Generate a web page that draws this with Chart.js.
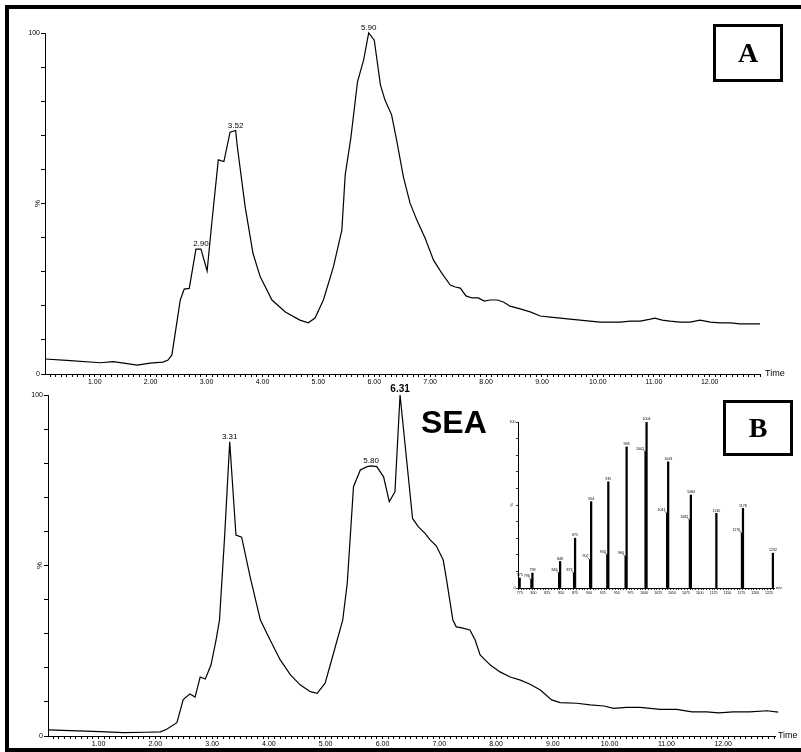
<!DOCTYPE html>
<html><head><meta charset="utf-8">
<script src="https://cdn.jsdelivr.net/npm/chart.js@4.4.1/dist/chart.umd.min.js"></script>
<style>
html,body{margin:0;padding:0;background:#fff;width:801px;height:752px;overflow:hidden;position:relative}
canvas{position:absolute;left:0;top:0}
#frame{position:absolute;left:5px;top:5px;width:820px;height:747px;border:4px solid #000;box-sizing:border-box}
.box{position:absolute;border:3px solid #000;box-sizing:border-box;font:bold 28px "Liberation Serif";display:flex;align-items:center;justify-content:center;color:#000}
#sea{position:absolute;left:421px;top:406px;font:bold 32px "Liberation Sans";line-height:32px;color:#000;white-space:nowrap}
</style></head><body>
<div id="frame"></div>
<canvas id="cA" width="801" height="752"></canvas>
<canvas id="cB" width="801" height="752"></canvas>
<canvas id="cI" width="801" height="752"></canvas>
<div class="box" style="left:713px;top:24px;width:70px;height:58px;">A</div>
<div class="box" style="left:723px;top:400px;width:70px;height:56px;">B</div>
<div id="sea">SEA</div>
<script>
// ---- Chromatogram A ----
const timeA = [0.11,0.50,1.10,1.33,1.55,1.76,1.99,2.22,2.31,2.38,2.53,2.60,2.69,2.81,2.90,3.01,3.09,3.21,3.31,3.42,3.52,3.55,3.69,3.83,3.96,4.17,4.41,4.67,4.82,4.94,5.09,5.27,5.42,5.48,5.58,5.70,5.81,5.90,6.00,6.11,6.19,6.31,6.40,6.52,6.64,6.76,6.91,7.06,7.21,7.36,7.45,7.54,7.64,7.75,7.86,7.97,8.07,8.20,8.31,8.43,8.61,8.79,8.97,9.15,9.33,9.50,9.68,9.86,10.04,10.22,10.40,10.58,10.76,10.94,11.02,11.15,11.29,11.47,11.65,11.83,12.01,12.19,12.37,12.54,12.72,12.90];
const intensityA = [4.4,4.0,3.3,3.6,3.1,2.6,3.2,3.5,4.1,5.6,21.7,24.9,25.1,36.6,36.6,30.2,43.7,62.8,62.3,70.9,71.4,66.7,49.1,35.4,28.5,21.7,18.2,15.8,15.0,16.4,21.7,31.5,42.2,58.4,69.1,85.7,92.1,100,97.9,84.8,80.4,76.0,68.6,57.9,50.1,45.2,39.8,33.4,29.5,26.1,25.5,25.2,22.9,22.3,22.3,21.4,21.7,21.7,21.1,19.9,19.1,18.2,17.0,16.7,16.4,16.1,15.8,15.5,15.2,15.2,15.2,15.5,15.5,16.1,16.4,15.8,15.5,15.2,15.2,15.8,15.2,15.0,15.0,14.7,14.7,14.7];
const peakLabelsA = ['2.90','3.52','5.90'];

// ---- Chromatogram B ----
const timeB = [0.11,1.03,1.44,1.85,2.09,2.20,2.38,2.49,2.54,2.61,2.70,2.79,2.88,2.98,3.07,3.13,3.22,3.31,3.42,3.52,3.67,3.85,4.02,4.20,4.38,4.55,4.73,4.85,4.99,5.10,5.30,5.38,5.49,5.61,5.73,5.80,5.90,6.02,6.12,6.22,6.31,6.53,6.63,6.75,6.84,6.95,7.07,7.13,7.24,7.30,7.40,7.54,7.63,7.72,7.90,8.07,8.25,8.43,8.60,8.78,8.98,9.13,9.42,9.66,9.90,10.07,10.30,10.54,10.89,11.18,11.45,11.71,11.92,12.18,12.47,12.77,12.97];
const intensityB = [1.8,1.3,1.0,1.1,1.2,2.0,3.9,10.6,11.4,12.3,11.4,17.3,16.7,20.8,28.2,34.0,58.4,86.3,58.9,58.3,46.7,34.0,28.2,22.3,17.9,15.0,13.0,12.5,15.5,22.0,34.0,44.8,73.1,78.0,79.0,79.2,79.0,76.0,68.7,71.6,100,63.8,61.4,59.4,57.5,55.7,51.6,45.7,34.0,32.0,31.7,31.1,28.2,23.8,20.8,18.8,17.3,16.4,15.2,13.5,10.6,9.8,9.6,9.1,8.8,8.1,8.4,8.4,7.8,7.8,7.1,7.1,6.8,7.1,7.1,7.4,7.0];
const peakLabelsB = ['3.31','5.80','6.31'];

// ---- Time axis tick labels ----
const timeTickLabels = ['1.00','2.00','3.00','4.00','5.00','6.00','7.00','8.00','9.00','10.00','11.00','12.00'];
const yTickLabels = ['0','100'];

// ---- Inset mass spectrum ----
const mzMain = [775,798,848,875,904,935,968,1004,1043,1084,1130,1178,1232];
const relMain = [6,9,16,30,52,64,85,100,76,56,45,48,21];
const mzMainLabels = ['775','798','848','875','904','935','968','1004','1043','1084','1130','1178','1232'];
const mzSub = [796,846,873,902,933,966,1002,1041,1082,1176];
const relSub = [5,9,9,17,20,19,82,45,41,33];
const mzSubLabels = ['796','846','873','902','933','966','1002','1041','1082','1176'];
const mzTickLabels = ['775','800','825','850','875','900','925','950','975','1000','1025','1050','1075','1100','1125','1150','1175','1200','1225'];

Chart.defaults.font.family = '"Liberation Sans", Arial, sans-serif';
Chart.defaults.color = '#000';

const chromText = {
  id: 'chromText',
  afterDraw(chart, args, o) {
    if (!o || !o.on) return;
    const {ctx, chartArea, scales} = chart;
    const xs = scales.x, ys = scales.y;
    ctx.save();
    ctx.fillStyle = '#000';
    ctx.font = '9px "Liberation Sans"';
    ctx.textAlign = 'left'; ctx.textBaseline = 'middle';
    ctx.fillText('Time', chartArea.right + o.timeDx, chartArea.bottom);
    const d = chart.data.datasets[0].data;
    o.peaks.forEach((lab, k) => {
      const t = parseFloat(lab);
      let best = 0, bd = 1e9;
      d.forEach((p, i) => { const dd = Math.abs(p.x - t); if (dd < bd) { bd = dd; best = i; } });
      const px = xs.getPixelForValue(t), py = ys.getPixelForValue(d[best].y);
      ctx.font = (o.peakFonts && o.peakFonts[k]) || '8px "Liberation Sans"';
      ctx.textAlign = 'center'; ctx.textBaseline = 'bottom';
      ctx.fillText(lab, px, py - 1);
    });
    ctx.font = '8px "Liberation Sans"';
    ctx.translate(o.pctX, (chartArea.top + chartArea.bottom) / 2);
    ctx.rotate(-Math.PI / 2);
    ctx.textAlign = 'center'; ctx.textBaseline = 'middle';
    ctx.fillText('%', 0, 0);
    ctx.restore();
  }
};

function chrom(id, times, vals, cfg) {
  const minor = [];
  for (let i = 1; i <= 130; i++) { const v = i / 10; if (v >= cfg.min && v <= cfg.max) minor.push(v); }
  return new Chart(document.getElementById(id), {
    type: 'line',
    data: { datasets: [{ data: times.map((t, i) => ({x: t, y: vals[i]})), borderColor: '#000', borderWidth: 1.2, pointRadius: 0, tension: 0, fill: false, clip: false }] },
    options: {
      responsive: false, animation: false, devicePixelRatio: 1,
      layout: { padding: { left: 0, top: cfg.top, right: cfg.right, bottom: cfg.bottom } },
      plugins: { legend: {display: false}, tooltip: {enabled: false},
        chromText: { on: true, peaks: cfg.peaks, peakFonts: cfg.peakFonts, timeDx: cfg.timeDx, pctX: cfg.pctX } },
      scales: {
        x: { type: 'linear', min: cfg.min, max: cfg.max,
          afterBuildTicks: s => { s.ticks = minor.map(v => ({value: v})); },
          afterFit: s => { s.height = cfg.xH; s.paddingLeft = 0; s.paddingRight = 0; },
          ticks: { autoSkip: false, maxRotation: 0, minRotation: 0, padding: 1, color: '#000', font: {size: 7},
            callback: v => { const n = Math.round(v); return (Math.abs(v - n) < 1e-6 && n >= 1 && n <= 12) ? timeTickLabels[n - 1] : ''; } },
          grid: { drawOnChartArea: false, drawTicks: true, tickLength: 3, color: '#000', tickColor: '#000', lineWidth: 1 },
          border: { display: true, color: '#000', width: 1 } },
        y: { min: 0, max: 100,
          afterBuildTicks: s => { const a = []; for (let v = 0; v <= 100; v += 10) a.push({value: v}); s.ticks = a; },
          afterFit: s => { s.width = cfg.yW; s.paddingTop = 0; s.paddingBottom = 0; },
          ticks: { autoSkip: false, padding: 1, color: '#000', font: {size: 7},
            callback: v => v === 0 ? yTickLabels[0] : (v === 100 ? yTickLabels[1] : '') },
          grid: { drawOnChartArea: false, drawTicks: true, tickLength: 4, color: '#000', tickColor: '#000' },
          border: { display: true, color: '#000', width: 1 } }
      }
    },
    plugins: [chromText]
  });
}

chrom('cA', timeA, intensityA, { min: 0.11, max: 12.90, top: 33, right: 41, bottom: 352, xH: 26, yW: 45, peaks: peakLabelsA, timeDx: 5, pctX: 38 });
chrom('cB', timeB, intensityB, { min: 0.11, max: 12.92, top: 395, right: 25.6, bottom: 2, xH: 14, yW: 48, peaks: peakLabelsB, peakFonts: ['8px "Liberation Sans"', '8px "Liberation Sans"', 'bold 10px "Liberation Sans"'], timeDx: 2.5, pctX: 40 });

// ---- Inset ----
const insetText = {
  id: 'insetText',
  afterDraw(chart) {
    const {ctx, chartArea} = chart;
    ctx.save(); ctx.fillStyle = '#000'; ctx.strokeStyle = '#000'; ctx.lineWidth = 0.6;
    ctx.font = '3.6px "Liberation Sans"';
    const m0 = chart.getDatasetMeta(0).data;
    m0.forEach((b, i) => { ctx.textAlign = 'center'; ctx.textBaseline = 'bottom'; ctx.fillText(mzMainLabels[i], b.x, b.y - 1); });
    const m1 = chart.getDatasetMeta(1).data;
    m1.forEach((b, i) => {
      ctx.beginPath(); ctx.moveTo(b.x - 2.5, b.y - 2); ctx.lineTo(b.x, b.y); ctx.stroke();
      ctx.textAlign = 'right'; ctx.textBaseline = 'bottom'; ctx.fillText(mzSubLabels[i], b.x - 1.5, b.y - 1.5);
    });
    ctx.textAlign = 'left'; ctx.textBaseline = 'middle';
    ctx.fillText('m/z', chartArea.right + 2, chartArea.bottom);
    ctx.translate(chartArea.left - 6, (chartArea.top + chartArea.bottom) / 2);
    ctx.rotate(-Math.PI / 2); ctx.textAlign = 'center';
    ctx.font = '4px "Liberation Sans"';
    ctx.fillText('%', 0, 0);
    ctx.restore();
  }
};
new Chart(document.getElementById('cI'), {
  type: 'bar',
  data: { datasets: [
    { data: mzMain.map((m, i) => ({x: m, y: relMain[i]})), backgroundColor: '#000', barThickness: 1.6, grouped: false },
    { data: mzSub.map((m, i) => ({x: m, y: relSub[i]})), backgroundColor: '#000', barThickness: 1.4, grouped: false }
  ] },
  options: {
    responsive: false, animation: false, devicePixelRatio: 1,
    layout: { padding: { left: 508, top: 422, right: 27, bottom: 156 } },
    plugins: { legend: {display: false}, tooltip: {enabled: false} },
    scales: {
      x: { type: 'linear', min: 772, max: 1234, offset: false,
        afterBuildTicks: s => { const a = []; for (let v = 775; v <= 1230; v += 5) a.push({value: v}); s.ticks = a; },
        afterFit: s => { s.height = 8; s.paddingLeft = 0; s.paddingRight = 0; },
        ticks: { autoSkip: false, maxRotation: 0, minRotation: 0, padding: 0.5, color: '#000', font: {size: 3.6},
          callback: v => { const k = (v - 775) / 25; return Number.isInteger(k) ? mzTickLabels[k] : ''; } },
        grid: { drawOnChartArea: false, drawTicks: true, tickLength: 2, color: '#000', tickColor: '#000', lineWidth: 0.8 },
        border: { display: true, color: '#000', width: 1 } },
      y: { min: 0, max: 100,
        afterBuildTicks: s => { const a = []; for (let v = 0; v <= 100; v += 10) a.push({value: v}); s.ticks = a; },
        afterFit: s => { s.width = 10; s.paddingTop = 0; s.paddingBottom = 0; },
        ticks: { autoSkip: false, padding: 0.5, color: '#000', font: {size: 3.6},
          callback: v => v === 0 ? '0' : (v === 100 ? '100' : '') },
        grid: { drawOnChartArea: false, drawTicks: true, tickLength: 2, color: '#000', tickColor: '#000', lineWidth: 0.8 },
        border: { display: true, color: '#000', width: 1 } }
    }
  },
  plugins: [insetText]
});
</script>
</body></html>
